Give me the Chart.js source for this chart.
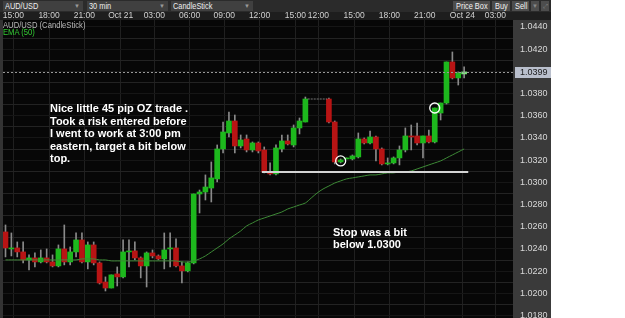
<!DOCTYPE html>
<html>
<head>
<meta charset="utf-8">
<script src="https://cdn.jsdelivr.net/npm/chart.js@4.4.1/dist/chart.umd.min.js"></script>
<style>
body { margin: 0; background: #fff; width: 625px; height: 318px; overflow: hidden; position: relative;
       font-family: 'Liberation Sans', Arial, sans-serif; }
#panel { position: absolute; left: 0; top: 0; width: 551px; height: 318px; background: #1e1e1e; }
#toolbar { position: absolute; left: 0; top: 0; width: 551px; height: 12px; background: #2b2b2b; }
.sel { position: absolute; top: 1px; height: 10px; background: #404040; color: #eee; font-size: 9px;
       line-height: 10px; padding-left: 2px; box-sizing: border-box; white-space: nowrap; }
.sel .arr { position: absolute; right: 3px; top: 0; color: #999; font-size: 6px; }
.btn { position: absolute; top: 1px; height: 10px; background: #4d4d4d; color: #f2f2f2; font-size: 9px;
       line-height: 10px; white-space: nowrap; overflow: hidden; }
.nar { display: inline-block; transform: scaleX(0.82); transform-origin: 0 0; }
#box { position: absolute; left: 0; top: 12px; width: 551px; height: 306px; }
#box canvas { display: block; }
.legend { position: absolute; left: 3px; font-size: 9px; line-height: 7px; white-space: nowrap;
          transform: scaleX(0.85); transform-origin: 0 0; }
.note { position: absolute; color: #fff; font: bold 11px 'Liberation Sans', Arial, sans-serif;
        line-height: 12.5px; white-space: nowrap; }
</style>
</head>
<body>
<div id="panel">
  <div id="toolbar">
    <div class="sel" style="left:3px;width:80px"><span class="nar">AUD/USD</span><span class="arr">▼</span></div>
    <div class="sel" style="left:87px;width:81px"><span class="nar">30 min</span><span class="arr">▼</span></div>
    <div class="sel" style="left:171px;width:82px"><span class="nar">CandleStick</span><span class="arr">▼</span></div>
    <div class="btn" style="left:453px;width:37px"><span class="nar" style="margin-left:3px">Price Box</span></div>
    <div class="btn" style="left:492px;width:18px"><span class="nar" style="margin-left:3px">Buy</span></div>
    <div class="btn" style="left:512px;width:17px"><span class="nar" style="margin-left:3px">Sell</span></div>
    <div class="btn" style="left:531px;width:8px;color:#888;font-size:6px;text-align:center">▼</div>
    <div class="btn" style="left:541px;width:8px;color:#888;font-size:6px;text-align:center">⤢</div>
  </div>
  <div id="box"><canvas id="chart" width="551" height="306"></canvas></div>
  <div class="legend" style="top:22px;color:#b8b8b8">AUD/USD (CandleStick)</div>
  <div class="legend" style="top:29px;color:#33cc33">EMA (50)</div>
  <div class="note" style="left:50px;top:102px">Nice little 45 pip OZ trade .<br>Took a risk entered before<br>I went to work at 3:00 pm<br>eastern, target a bit below<br>top.</div>
  <div class="note" style="left:333px;top:226px;line-height:12px">Stop was a bit<br>below 1.0300</div>
</div>
<script>
// 30 min AUD/USD candles, one slot per bar; slots 52-54 are the gap in the feed
const opens = [1.02553,1.02400,1.02409,1.02373,1.02301,1.02319,1.02283,1.02319,1.02283,1.02247,
  1.02400,1.02283,1.02373,1.02481,1.02283,1.02436,1.02274,1.02102,1.02048,1.02175,
  1.02148,1.02373,1.02382,1.02319,1.02247,1.02364,1.02337,1.02310,1.02400,1.02409,
  1.02247,1.02202,1.02274,1.02895,1.02913,1.02949,1.03031,1.03301,1.03445,1.03553,
  1.03328,1.03391,1.03292,1.03355,1.03292,1.03094,1.03076,1.03301,1.03373,1.03337,
  1.03490,1.03544,null,null,null,1.03751,1.03544,1.03184,1.03211,1.03211,
  1.03229,1.03391,1.03355,1.03409,1.03301,1.03166,1.03175,1.03220,1.03292,1.03418,
  1.03418,1.03355,1.03418,1.03364,1.03625,1.03715,1.04085,1.03941,1.03977];
const highs = [1.02616,1.02544,1.02463,1.02463,1.02346,1.02364,1.02391,1.02400,1.02346,1.02436,
  1.02616,1.02418,1.02544,1.02544,1.02463,1.02463,1.02283,1.02148,1.02166,1.02238,
  1.02481,1.02481,1.02463,1.02328,1.02373,1.02391,1.02346,1.02544,1.02544,1.02490,
  1.02283,1.02283,1.02895,1.02931,1.03067,1.03184,1.03337,1.03544,1.03634,1.03607,
  1.03427,1.03427,1.03364,1.03364,1.03319,1.03175,1.03337,1.03427,1.03427,1.03517,
  1.03580,1.03769,null,null,null,1.03760,1.03553,1.03211,1.03220,1.03247,
  1.03445,1.03400,1.03463,1.03418,1.03310,1.03220,1.03229,1.03328,1.03490,1.03517,
  1.03535,1.03418,1.03472,1.03670,1.03715,1.04085,1.04175,1.03995,1.04040];
const lows = [1.02328,1.02337,1.02328,1.02274,1.02211,1.02238,1.02274,1.02274,1.02238,1.02238,
  1.02256,1.02256,1.02328,1.02274,1.02220,1.02256,1.02084,1.02021,1.02048,1.02066,
  1.02139,1.02238,1.02301,1.02139,1.02057,1.02319,1.02301,1.02220,1.02238,1.02238,
  1.02093,1.02193,1.02265,1.02724,1.02841,1.02823,1.03004,1.03265,1.03409,1.03265,
  1.03310,1.03274,1.03274,1.03265,1.03085,1.03067,1.03067,1.03274,1.03337,1.03319,
  1.03436,1.03544,null,null,null,1.03535,1.03166,1.03175,1.03211,1.03202,
  1.03220,1.03346,1.03346,1.03193,1.03157,1.03157,1.03166,1.03157,1.03274,1.03292,
  1.03337,1.03220,1.03355,1.03355,1.03562,1.03706,1.03932,1.03877,1.03941];
const closes = [1.02409,1.02409,1.02373,1.02301,1.02319,1.02283,1.02319,1.02283,1.02247,1.02400,
  1.02283,1.02373,1.02481,1.02283,1.02436,1.02274,1.02093,1.02048,1.02166,1.02148,
  1.02373,1.02382,1.02319,1.02247,1.02364,1.02337,1.02310,1.02391,1.02409,1.02247,
  1.02202,1.02274,1.02895,1.02913,1.02958,1.03040,1.03301,1.03454,1.03553,1.03328,
  1.03382,1.03292,1.03355,1.03283,1.03094,1.03076,1.03310,1.03373,1.03346,1.03490,
  1.03553,1.03751,null,null,null,1.03544,1.03184,1.03202,1.03220,1.03238,
  1.03391,1.03355,1.03409,1.03301,1.03166,1.03175,1.03220,1.03292,1.03418,1.03409,
  1.03355,1.03418,1.03364,1.03670,1.03715,1.04085,1.03941,1.03986,1.03995];
const ema50 = [1.02301,1.02301,1.02301,1.02301,1.02301,1.02301,1.02301,1.02301,1.02301,1.02301,
  1.02301,1.02301,1.02301,1.02310,1.02310,1.02310,1.02301,1.02301,1.02292,1.02292,
  1.02292,1.02292,1.02292,1.02292,1.02292,1.02292,1.02292,1.02292,1.02292,1.02292,
  1.02283,1.02283,1.02292,1.02310,1.02337,1.02373,1.02409,1.02445,1.02490,1.02526,
  1.02562,1.02607,1.02634,1.02661,1.02679,1.02697,1.02715,1.02733,1.02760,1.02778,
  1.02796,1.02814,1.02859,1.02904,1.02940,1.02967,1.02994,1.03013,1.03031,1.03040,
  1.03049,1.03058,1.03067,1.03067,1.03076,1.03085,1.03085,1.03094,1.03094,1.03103,
  1.03121,1.03139,1.03157,1.03175,1.03193,1.03220,1.03247,1.03274,1.03301];

const timeLabels = ['15:00','18:00','21:00','Oct 21','03:00','06:00','09:00','12:00','15:00','12:00','15:00','18:00','21:00','Oct 24','03:00'];
const timeSlots = [1.35,7.4,13.4,19.6,25.3,31.3,37.2,43.2,49.3,53.2,59.3,65.3,71.3,77.7,83.3];
const priceLabels = ['1.0180','1.0200','1.0220','1.0240','1.0260','1.0280','1.0300','1.0320','1.0340','1.0360','1.0380','1.0400','1.0420','1.0440'];
const lastPrice = 1.0399;

// hand drawn marks on the chart
const stopLevel = 1.03094, stopFrom = 43.6, stopTo = 78.7;
const gapLevel = 1.03751, gapFrom = 51.4, gapTo = 54.7;
const entryMarks = [{ x: 57, y: 1.03193 }, { x: 73, y: 1.03670 }];

const xMin = -0.425, xMax = 86.31;
const yMin = 1.01778, yMax = 1.04463;

const GREEN = '#1db81d', RED = '#b81414', LAST = '#7fe07f';

const bodies = [], wicks = [], bodyColors = [];
opens.forEach((o, i) => {
    if (o === null) return;
    bodies.push({ x: i, y: [o, closes[i]] });
    wicks.push({ x: i, y: [lows[i], highs[i]] });
    let col = closes[i] >= o ? GREEN : RED;
    if (i === opens.length - 1) col = LAST;
    bodyColors.push(col);
});
const emaPts = ema50.map((v, i) => ({ x: i, y: v }));

// minor grid lines half way between the labelled prices
const gridPrices = [];
priceLabels.forEach((p, i) => {
    gridPrices.push(parseFloat(p));
    if (i < priceLabels.length - 1) gridPrices.push((parseFloat(p) + parseFloat(priceLabels[i + 1])) / 2);
});
// edge ticks carry no label, so the axes add no padding to the plot
const yTicks = [yMin, ...gridPrices, yMax];
const xTicks = [xMin, ...timeSlots, xMax];

const FONT = "'Liberation Sans', Arial, sans-serif";

const paintPlugin = {
    id: 'paint',
    beforeDraw(c) {
        const { ctx, chartArea: a, width, height } = c;
        ctx.save();
        ctx.fillStyle = '#1e1e1e';
        ctx.fillRect(0, 0, width, height);
        ctx.fillStyle = '#070707';
        ctx.fillRect(a.left, a.top, a.right - a.left, a.bottom - a.top);
        ctx.fillStyle = '#333';
        ctx.fillRect(0, a.top, a.left, a.bottom - a.top);
        ctx.fillStyle = '#3a3a3a';
        ctx.fillRect(a.right, a.top, width - a.right, a.bottom - a.top);
        ctx.restore();
    },
    afterDraw(c) {
        // last price tag on the price axis
        const { ctx, chartArea: a } = c;
        const y = c.scales.y.getPixelForValue(lastPrice);
        ctx.save();
        ctx.fillStyle = '#b9bfcc';
        ctx.fillRect(a.right + 2, Math.round(y) - 5, 36, 11);
        ctx.fillStyle = '#1a1a1a';
        ctx.font = '9px ' + FONT;
        ctx.textBaseline = 'middle';
        ctx.fillText(lastPrice.toFixed(4), a.right + 7, Math.round(y) + 0.5);
        ctx.restore();
    }
};

Chart.defaults.font.family = FONT;

new Chart(document.getElementById('chart'), {
    type: 'bar',
    data: {
        datasets: [
            { data: wicks, backgroundColor: '#8a8a8a', barThickness: 1, grouped: false, order: 4 },
            { data: bodies, backgroundColor: bodyColors, barThickness: 5, minBarLength: 1, grouped: false, order: 3 },
            { type: 'line', data: emaPts, borderColor: '#3d8a36', borderWidth: 1, pointRadius: 0, tension: 0.3, order: 2 },
            { type: 'line', data: [{ x: xMin, y: lastPrice }, { x: xMax, y: lastPrice }], borderColor: '#9a9a9a',
              borderWidth: 1, borderDash: [2, 2], pointRadius: 0, order: 2 },
            { type: 'line', data: [{ x: gapFrom, y: gapLevel }, { x: gapTo, y: gapLevel }], borderColor: '#777',
              borderWidth: 1, borderDash: [2, 1], pointRadius: 0, order: 2 },
            { type: 'line', data: [{ x: stopFrom, y: stopLevel }, { x: stopTo, y: stopLevel }], borderColor: '#d4d4d4',
              borderWidth: 2, pointRadius: 0, order: 1 },
            { type: 'line', data: entryMarks, showLine: false, pointRadius: 5, pointBorderWidth: 1.3,
              pointBorderColor: '#fff', pointBackgroundColor: 'rgba(0,0,0,0)', order: 0 }
        ]
    },
    options: {
        responsive: false,
        animation: false,
        layout: { autoPadding: false, padding: { left: 3, right: 0, top: 0, bottom: 0 } },
        plugins: { legend: { display: false }, tooltip: { enabled: false } },
        scales: {
            x: {
                type: 'linear', position: 'top', min: xMin, max: xMax, offset: false,
                afterBuildTicks: s => { s.ticks = xTicks.map(v => ({ value: v })); },
                afterFit: s => { s.height = 8; },
                ticks: { autoSkip: false, maxRotation: 0, padding: 0, color: '#d2d2d2',
                         font: { size: 8.5, lineHeight: 0.95 },
                         callback: (v, i) => (i === 0 || i === xTicks.length - 1 ? null : timeLabels[i - 1]) },
                grid: { color: '#202020', drawTicks: false, offset: false },
                border: { display: false }
            },
            y: {
                position: 'right', min: yMin, max: yMax,
                afterBuildTicks: s => { s.ticks = yTicks.map(v => ({ value: v })); },
                afterFit: s => { s.width = 38; },
                // a tiny line height keeps the end labels from padding the plot area
                ticks: { autoSkip: false, padding: 0, color: '#d8d8d8', font: { size: 9, lineHeight: 0.01 },
                         callback: (v, i) => {
                             if (i === 0 || i === yTicks.length - 1) return null;
                             return (i - 1) % 2 === 0 ? priceLabels[(i - 1) / 2] : '';
                         } },
                grid: { drawTicks: true, tickLength: 7, tickColor: 'rgba(0,0,0,0)',
                        color: ctx => (ctx.index % 2 === 1 ? '#232323' : '#161616') },
                border: { display: false }
            }
        }
    },
    plugins: [paintPlugin]
});
</script>
</body>
</html>
